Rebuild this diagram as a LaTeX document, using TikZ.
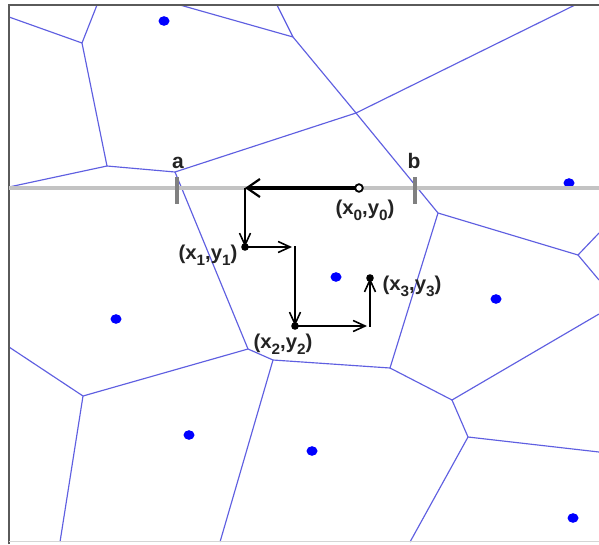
\documentclass[tikz,border=0pt]{standalone}
\usepackage{fontspec}
\setmainfont{Liberation Sans}
\usetikzlibrary{arrows.meta}
\definecolor{vorblue}{RGB}{95,95,225}
\definecolor{axisgray}{RGB}{195,195,195}
\definecolor{tickgray}{RGB}{128,128,128}
\definecolor{framegray}{RGB}{90,90,90}
\definecolor{labblack}{RGB}{35,35,35}
\newcommand\lsub[1]{\raisebox{-6pt}{\fontsize{15}{15}\selectfont #1}}
\newcommand\coordlab[2]{\scalebox{1.02}[1]{(x\lsub{#1},y\lsub{#2})}}
\begin{document}
\begin{tikzpicture}[x=1pt,y=-1pt,
  vor/.style={draw=vorblue, line width=1.15pt, line join=round},
  site/.style={fill=blue},
  lab/.style={font=\bfseries\fontsize{20}{20}\selectfont, text=labblack, inner sep=0pt, anchor=base},
  ablab/.style={font=\bfseries\fontsize{21}{21}\selectfont, text=labblack, inner sep=0pt, anchor=base},
  tickmark/.style={draw=tickgray, line width=3.5pt},
  bigarrow/.style={draw=black, line width=4.8pt, -{Straight Barb[length=13pt,width=18pt,line width=2.2pt]}},
  steparrow/.style={draw=black, line width=1.8pt, -{Straight Barb[length=12pt,width=11pt,line width=1.6pt]}},
  walkdot/.style={fill=black}]
\useasboundingbox (0,0) rectangle (599,544);
\fill[white] (0,0) rectangle (599,544);

% Voronoi vertices
\coordinate (V1) at (82,43);
\coordinate (V2) at (107,166);
\coordinate (V3) at (175,172);
\coordinate (V4) at (293,37);
\coordinate (V5) at (356,113);
\coordinate (V6) at (438,213);
\coordinate (V7) at (578,255);
\coordinate (V8) at (390,368);
\coordinate (V9) at (273,360);
\coordinate (V10) at (248,349);
\coordinate (V11) at (83,396);
\coordinate (V12) at (452,400);
\coordinate (V13) at (468,437);

\begin{scope}[vor]
\draw (9,17) -- (V1) -- (97,5);
\draw (V1) -- (V2) -- (9,187);
\draw (V2) -- (V3) -- (V5);
\draw (180,5) -- (V4) -- (277,5);
\draw (V4) -- (V5) -- (575,5);
\draw (V5) -- (V6) -- (V7) -- (599,233);
\draw (V7) -- (599,280);
\draw (V6) -- (V8) -- (V9) -- (V10) -- (V3);
\draw (V10) -- (V11) -- (9,347);
\draw (V11) -- (60,542);
\draw (V9) -- (220,542);
\draw (V8) -- (V12) -- (599,314);
\draw (V12) -- (V13) -- (599,452);
\draw (V13) -- (410,542);
\end{scope}

% sites
\foreach \p in {(164,21),(569,183),(336,277),(116,319),(189,435),(496,299),(312,451),(573,518)}
  \fill[site] \p ellipse [x radius=5.5pt, y radius=4.8pt];

% frame
\draw[framegray, line width=1.2pt] (9,544) -- (9,5) -- (599,5);
\draw[axisgray!70, line width=0.8pt] (9,541) -- (599,541);

% scan line and interval ends
\coordinate (Lft) at (9,188);
\coordinate (Rgt) at (599,188);
\draw[axisgray, line width=3.8pt] (Lft) -- (Rgt);
\coordinate (A1) at (177,177);
\coordinate (A2) at (177,204);
\coordinate (B1) at (415,177);
\coordinate (B2) at (415,204);
\draw[tickmark] (A1) -- (A2);
\draw[tickmark] (B1) -- (B2);
\node[ablab] (la) at (178,168) {a};
\node[ablab] (lb) at (414,168) {b};

% walk
\coordinate (O) at (359,188);
\coordinate (T) at (245,188);
\coordinate (P1) at (245,247);
\coordinate (C1) at (295,247);
\coordinate (P2) at (295,326);
\coordinate (C2) at (370,326);
\coordinate (P3) at (370,278);

\draw[bigarrow, shorten <=3pt] (O) -- (T);
\draw[steparrow] (T) -- (P1);
\draw[steparrow, shorten >=3pt] (P1) -- (C1);
\draw[draw=black, line width=1.8pt] ([xshift=-1pt]C1) -- (C1);
\draw[steparrow] ([yshift=0.9pt]C1) -- (P2);
\draw[steparrow, shorten >=3pt] (P2) -- (C2);
\draw[steparrow] ([yshift=-0.9pt]C2) -- (P3);
\fill[white] (O) circle [radius=3.8pt];
\draw[black, line width=1.8pt] (O) circle [radius=3.8pt];
\foreach \q in {P1,P2,P3} \fill[walkdot] (\q) circle [radius=3.8pt];

\node[lab] (l0) at (365,214) {\coordlab{0}{0}};
\node[lab] (l1) at (208,259) {\coordlab{1}{1}};
\node[lab] (l2) at (283,348) {\coordlab{2}{2}};
\node[lab] (l3) at (412,290) {\coordlab{3}{3}};
\end{tikzpicture}
\end{document}
